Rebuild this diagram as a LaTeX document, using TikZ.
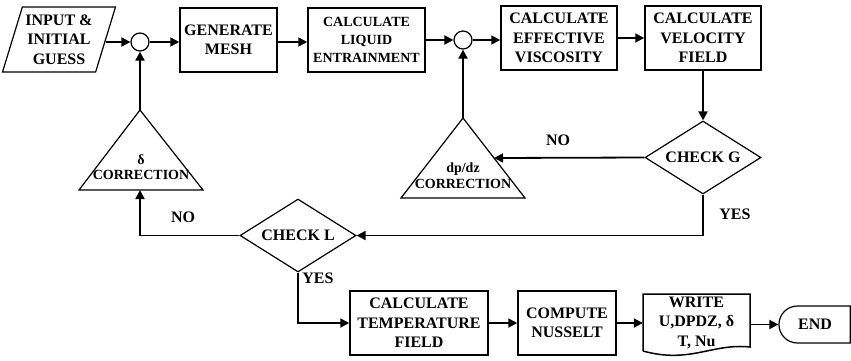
\documentclass[tikz,border=0pt]{standalone}
\usepackage{fontspec}
\setmainfont{Liberation Serif}
\usetikzlibrary{arrows.meta, calc, positioning, shapes.geometric, shapes.misc}
\tikzset{
  >={Triangle[length=9pt, width=9pt]},
  every picture/.style={line join=miter},
  txt/.style={font=\bfseries\fontsize{16}{19.5}\selectfont, align=center},
  small/.style={font=\bfseries\fontsize{14}{18}\selectfont, align=center},
  tritxt/.style={font=\bfseries\fontsize{14}{15.5}\selectfont, align=center},
  flow/.style={->, line width=1.8pt},
  outl/.style={line width=1.2pt},
  % process box, summing point, decision
  box/.style={draw, rectangle, line width=1.5pt, minimum height=64pt, inner sep=2pt},
  sumpt/.style={draw, circle, line width=1.2pt, minimum size=18pt, inner sep=0pt},
  decide/.style={draw, diamond, aspect=1.57, line width=1.2pt, minimum width=116pt, minimum height=73pt, inner sep=1pt, txt},
  io/.style={draw, trapezium, trapezium left angle=69, trapezium right angle=111, trapezium stretches body,
    line width=1.2pt, minimum width=113pt, minimum height=65pt, inner sep=1pt, txt},
  term/.style={draw, rounded rectangle, rounded rectangle right arc=none, line width=1.2pt,
    minimum width=78pt, minimum height=37pt, txt},
}

\begin{document}
\begin{tikzpicture}[x=1pt, y=-1pt]
  \useasboundingbox (0,0) rectangle (851,360);
  % top row
  \node[io] (in) at (59,39.5) {INPUT \&\\INITIAL\\GUESS};
  \node[sumpt] (s1) at (140,42) {};
  \node[box, txt, minimum width=97pt] (mesh) at (228.5,40) {GENERATE\\MESH};
  \node[box, small, minimum width=117pt] (liq) at (366.5,40) {CALCULATE\\LIQUID\\ENTRAINMENT};
  \node[sumpt] (s2) at (463,40) {};
  \node[box, txt, minimum width=116pt] (visc) at (559,38) {CALCULATE\\EFFECTIVE\\VISCOSITY};
  \node[box, txt, minimum width=116pt] (vel) at (703,38) {CALCULATE\\VELOCITY\\FIELD};
  % checks
  \node[decide] (chkg) at (703,157.5) {CHECK G};
  \node[decide] (chkl) at (298,235.5) {CHECK L};
  % correction triangles
  \coordinate (dl-top) at (140,110);
  \coordinate (dl-base) at (140,190);
  \draw[outl] (dl-top) -- (79,190) -- (203,190) -- cycle;
  \node[tritxt] (dl) at (141,167) {δ\\CORRECTION};
  \coordinate (dp-top) at (463,118);
  \coordinate (dp-side) at (494,158);
  \draw[outl] (dp-top) -- (401,198) -- (525,198) -- cycle;
  \node[tritxt] (dp) at (463,175.5) {dp/dz\\CORRECTION};
  % bottom row
  \node[box, txt, minimum width=138pt] (temp) at (419,323) {CALCULATE\\TEMPERATURE\\FIELD};
  \node[box, txt, minimum width=98pt] (nus) at (567,323) {COMPUTE\\NUSSELT};
  \node[txt, minimum width=107pt, minimum height=56pt, inner sep=0pt] (write) at (696.5,322.5) {WRITE\\U,DPDZ, δ\\T, Nu};
  \draw[line width=1.5pt] (643,351) -- (643,294) -- (750,294) -- (750,347)
    .. controls (712,343) and (690,364) .. (643,351);
  \node[term] (end) at (815,324.5) {END};
  % connectors
  \draw[flow] (in.east |- s1) -- (s1.west);
  \draw[flow] (s1.east) -- (s1 -| mesh.west);
  \draw[flow] (mesh.east |- s1) -- (s1 -| liq.west);
  \draw[flow] (liq.east |- s2) -- (s2.west);
  \draw[flow] (s2.east) -- (s2 -| visc.west);
  \draw[flow] (visc.east) -- (visc.east -| vel.west);
  \draw[flow] (vel.south) -- (chkg.north);
  \draw[flow] (chkg.west) -- (dp-side);
  \draw[flow] (chkg.south) |- (chkl.east);
  \draw[flow] (chkl.west) -| (dl-base);
  \draw[flow] (dl-top) -- (s1.south);
  \draw[flow] (dp-top) -- (s2.south);
  \draw[flow] (chkl.south) |- (temp.west);
  \draw[flow] (temp.east) -- (nus.west);
  \draw[flow] (nus.east) -- (nus.east -| write.west);
  \draw[flow] (write.east |- end) -- (end.west);
  % branch labels
  \node[txt] (no-g) at (558,140) {NO};
  \node[txt] (yes-g) at (735,214) {YES};
  \node[txt] (no-l) at (183,217) {NO};
  \node[txt] (yes-l) at (318,278) {YES};
\end{tikzpicture}
\end{document}
